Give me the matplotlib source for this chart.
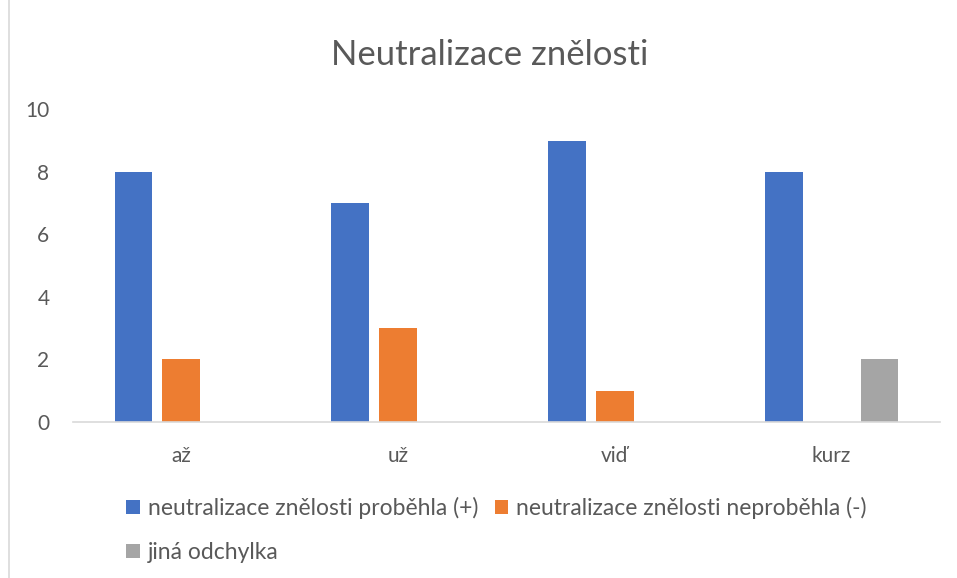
import matplotlib.pyplot as plt
import numpy as np
from matplotlib.lines import Line2D

plt.rcParams['font.family'] = ['Lato', 'DejaVu Sans']

# data
categories = ["až", "už", "viď", "kurz"]
proběhla = [8, 7, 9, 8]
neproběhla = [2, 3, 1, 0]
jina = [0, 0, 0, 2]
series_names = ["neutralizace znělosti proběhla (+)",
                "neutralizace znělosti neproběhla (-)",
                "jiná odchylka"]
colors = ["#4472C4", "#ED7D31", "#A5A5A5"]
text_col = "#595959"

fig = plt.figure(figsize=(9.57, 5.78), dpi=100)
ax = fig.add_axes([0.0763, 0.2699, 0.9059, 0.5407])

x = np.arange(len(categories))
w = 0.175
off = 0.221
b1 = ax.bar(x - off, proběhla, w, color=colors[0], label=series_names[0])
b2 = ax.bar(x, neproběhla, w, color=colors[1], label=series_names[1])
b3 = ax.bar(x + off, jina, w, color=colors[2], label=series_names[2])

ax.set_xlim(-0.5, len(categories) - 0.5)
ax.set_ylim(0, 10)
ax.set_yticks(range(0, 11, 2))
ax.set_xticks(x)
ax.set_xticklabels(categories)
ax.tick_params(axis='both', length=0, labelsize=15, colors=text_col)
ax.tick_params(axis='y', pad=17)
ax.tick_params(axis='x', pad=17)
for s in ['top', 'right', 'left']:
    ax.spines[s].set_visible(False)
ax.spines['bottom'].set_color('#d9d9d9')
ax.spines['bottom'].set_linewidth(1.2)

fig.suptitle("Neutralizace znělosti", x=0.512, y=0.932, fontsize=25,
             color=text_col)

# legend in Excel row order: blue, orange / grey
leg = fig.legend([b1, b3, b2], [series_names[0], series_names[2], series_names[1]],
                 ncol=2, loc='upper left', bbox_to_anchor=(0.132, 0.14),
                 frameon=False, fontsize=16.5, handlelength=0.6,
                 handleheight=0.6, handletextpad=0.35, columnspacing=0.7,
                 labelspacing=1.0, borderaxespad=0, borderpad=0)
for t in leg.get_texts():
    t.set_color(text_col)

# chart border on the left
fig.add_artist(Line2D([0.0095, 0.0095], [0, 1], color='#d9d9d9', lw=1.2,
                      transform=fig.transFigure))

fig.savefig("out.png", dpi=100)
